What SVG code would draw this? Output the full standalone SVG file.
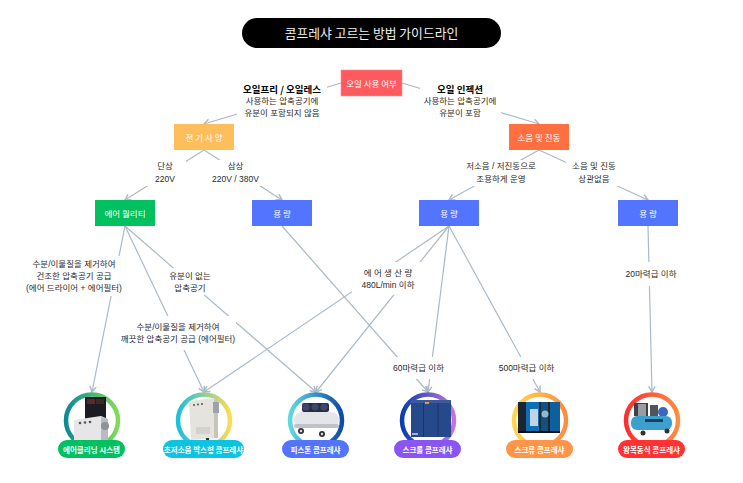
<svg xmlns="http://www.w3.org/2000/svg" width="743" height="483" viewBox="0 0 743 483">
<style>
text{font-family:"Noto Sans CJK KR","Liberation Sans",sans-serif;text-anchor:middle;dominant-baseline:central}
.l{font-family:"Liberation Sans","Noto Sans CJK KR",sans-serif;font-size:8.5px;fill:#2a2a2a}
.b{font-size:9.500px;font-weight:700;fill:#000}
.n{font-size:8.500px;fill:#fff}
.p{font-size:7.500px;font-weight:700;fill:#fff}
.c line{stroke:#abbac7;stroke-width:1.200;fill:none;marker-end:url(#a)}
.bg{fill:#fff}
.r{fill:#fff;stroke-width:4.500}
</style>
<defs>
<marker id="a" viewBox="0 0 10 10" refX="9" refY="5" markerWidth="8" markerHeight="8" markerUnits="userSpaceOnUse" orient="auto"><path d="M2 1L9 5L2 9" fill="none" stroke="#abbac7" stroke-width="1.800"/></marker>
<linearGradient id="g1"><stop offset="0" stop-color="#0d8a94"/><stop offset="1" stop-color="#80dc58"/></linearGradient>
<linearGradient id="g2"><stop offset="0" stop-color="#1cc0dc"/><stop offset="1" stop-color="#fadd55"/></linearGradient>
<linearGradient id="g3"><stop offset="0" stop-color="#5fd8e0"/><stop offset="1" stop-color="#0a4caa"/></linearGradient>
<linearGradient id="g4"><stop offset="0" stop-color="#0a3eb0"/><stop offset="1" stop-color="#c872e2"/></linearGradient>
<linearGradient id="g5"><stop offset="0" stop-color="#ffd850"/><stop offset="1" stop-color="#ff8c40"/></linearGradient>
<linearGradient id="g6"><stop offset="0" stop-color="#ff2e30"/><stop offset="1" stop-color="#ff8e3e"/></linearGradient>
<filter id="s" x="-10%" y="-10%" width="120%" height="120%"><feGaussianBlur stdDeviation="0.5"/></filter>
</defs>
<rect width="743" height="483" fill="#fff"/>
<g id="connectors" class="c">
<line x1="341" y1="83" x2="204" y2="124"/>
<line x1="402" y1="83" x2="539" y2="124"/>
<line x1="204" y1="150" x2="125" y2="200"/>
<line x1="204" y1="150" x2="282" y2="200"/>
<line x1="539" y1="150" x2="449" y2="200"/>
<line x1="539" y1="150" x2="648" y2="200"/>
<line x1="125" y1="226" x2="92" y2="392"/>
<line x1="125" y1="226" x2="204" y2="392"/>
<line x1="125" y1="226" x2="316" y2="392"/>
<line x1="282" y1="226" x2="428" y2="392"/>
<line x1="449" y1="226" x2="204" y2="392"/>
<line x1="449" y1="226" x2="316" y2="392"/>
<line x1="449" y1="226" x2="428" y2="392"/>
<line x1="449" y1="226" x2="540" y2="392"/>
<line x1="648" y1="226" x2="652" y2="392"/>
</g>
<g id="title"><rect x="242" y="18" width="259" height="30" rx="15" fill="#000"/><text x="371.500" y="32.500" font-size="12.800" fill="#f0f0f0">콤프레샤 고르는 방법 가이드라인</text></g>
<g id="edge-labels">
<rect class="bg" x="237" y="78" width="90" height="41"/>
<text class="b" x="282" y="89">오일프리 / 오일레스</text><text class="l" x="282" y="101">사용하는 압축공기에</text><text class="l" x="282" y="113">유분이 포함되지 않음</text>
<rect class="bg" x="420" y="78" width="81" height="41"/>
<text class="b" x="460" y="89">오일 인젝션</text><text class="l" x="460" y="101">사용하는 압축공기에</text><text class="l" x="460" y="113">유분이 포함</text>
<rect class="bg" x="146" y="160" width="40" height="26"/>
<text class="l" x="165" y="166">단상</text><text class="l" x="165" y="179">220V</text>
<rect class="bg" x="210" y="160" width="52" height="26"/>
<text class="l" x="235.500" y="166">삼상</text><text class="l" x="235.500" y="179">220V / 380V</text>
<rect class="bg" x="462" y="160" width="78" height="26"/>
<text class="l" x="501" y="166">저소음 / 저진동으로</text><text class="l" x="501" y="179">조용하게 운영</text>
<rect class="bg" x="566" y="160" width="56" height="26"/>
<text class="l" x="594" y="166">소음 및 진동</text><text class="l" x="594" y="179">상관없음</text>
<rect class="bg" x="26" y="256" width="97" height="40"/>
<text class="l" x="74" y="264">수분/이물질을 제거하여</text><text class="l" x="74" y="276">건조한 압축공기 공급</text><text class="l" x="74" y="288">(에어 드라이어 + 에어필터)</text>
<rect class="bg" x="165" y="268" width="50" height="27"/>
<text class="l" x="190" y="275.500">유분이 없는</text><text class="l" x="190" y="287.500">압축공기</text>
<rect class="bg" x="120" y="316" width="116" height="34"/>
<text class="l" x="178" y="327">수분/이물질을 제거하여</text><text class="l" x="178" y="339">깨끗한 압축공기 공급 (에어필터)</text>
<rect class="bg" x="352" y="262" width="72" height="33"/>
<text class="l" x="388" y="272.500">에 어 생 산 량</text><text class="l" x="388" y="284.500">480L/min 이하</text>
<rect class="bg" x="392" y="357" width="53" height="22"/>
<text class="l" x="418.500" y="367.500">60마력급 이하</text>
<rect class="bg" x="497" y="357" width="59" height="22"/>
<text class="l" x="526.500" y="367.500">500마력급 이하</text>
<rect class="bg" x="624" y="262" width="54" height="24"/>
<text class="l" x="651" y="274">20마력급 이하</text>
</g>
<g id="node-oil"><rect x="341" y="70" width="61" height="26" fill="#ff5a5f" stroke="#ff8a8e" stroke-width=".6"/><text class="n" x="371.500" y="83">오일 사용 여부</text></g>
<g id="node-power"><rect x="174" y="124" width="60" height="26" fill="#ffbe5c"/><text class="n" x="204" y="137">전 기 사 양</text></g>
<g id="node-noise"><rect x="509" y="124" width="60" height="26" fill="#ff6f3f"/><text class="n" x="539" y="137">소음 및 진동</text></g>
<g id="node-air"><rect x="95" y="200" width="60" height="26" fill="#00c060"/><text class="n" x="125" y="213">에어 퀄리티</text></g>
<g id="node-cap1"><rect x="252" y="200" width="60" height="26" fill="#5274ff"/><text class="n" x="282" y="213">용 량</text></g>
<g id="node-cap2"><rect x="419" y="200" width="60" height="26" fill="#5274ff"/><text class="n" x="449" y="213">용 량</text></g>
<g id="node-cap3"><rect x="618" y="200" width="60" height="26" fill="#5274ff"/><text class="n" x="648" y="213">용 량</text></g>

<g id="result-air-cleaning">
<circle class="r" cx="92" cy="420.500" r="26" stroke="url(#g1)"/>
<g filter="url(#s)">
<rect x="85" y="397" width="21" height="22" fill="#1d1c22"/><rect x="87" y="399" width="8" height="5" fill="#5a2a2a"/><rect x="96" y="399" width="8" height="5" fill="#3a2a2a"/>
<path d="M74 420L101 416L108 419V440H74Z" fill="#e6e6e8"/><path d="M101 417L108 419V440H101Z" fill="#b9bbc0"/>
<circle cx="80" cy="423" r="1.300" fill="#555"/><circle cx="85" cy="422.500" r="1.300" fill="#555"/><circle cx="90" cy="422" r="1.300" fill="#555"/>
<circle cx="105" cy="426" r="4" fill="#8d9299"/>
</g>
<rect x="58" y="440" width="67" height="18" rx="9" fill="#00c060"/><text class="p" x="91.500" y="449">에어클리닝 시스템</text>
</g>
<g id="result-box">
<circle class="r" cx="204" cy="420.500" r="26" stroke="url(#g2)"/>
<g filter="url(#s)">
<path d="M189 401L214 398L218 401V438L191 440Z" fill="#e4e3dd"/><path d="M214 398L218 401V438L214 438Z" fill="#c5c5c0"/>
<circle cx="194" cy="405" r="1" fill="#555"/><circle cx="198" cy="404.500" r="1" fill="#555"/><circle cx="202" cy="404" r="1" fill="#555"/>
<rect x="213" y="402" width="6" height="11" fill="#9ea3aa"/><rect x="196" y="427" width="14" height="7" fill="#d3d2cc"/>
<rect x="206" y="438" width="3" height="3" fill="#333"/>
</g>
<rect x="163" y="440" width="81" height="18" rx="9" fill="#0cc3e2"/><text class="p" x="203.500" y="449">초저소음 박스형 콤프레샤</text>
</g>
<g id="result-piston">
<circle class="r" cx="316" cy="420.500" r="26" stroke="url(#g3)"/>
<g filter="url(#s)">
<rect x="302" y="403" width="27" height="9" rx="2" fill="#2a2f3e"/><circle cx="306" cy="407" r="3.500" fill="#3a4a70"/><circle cx="315" cy="407" r="3.500" fill="#3a4a70"/><circle cx="324" cy="407" r="3.500" fill="#3a4a70"/>
<rect x="294" y="412" width="45" height="16" rx="8" fill="#e4e5e8"/><rect x="294" y="424" width="45" height="4" rx="2" fill="#bfc2c8"/>
<circle cx="301" cy="431" r="3" fill="#333"/><circle cx="301" cy="431" r="1.200" fill="#ddd"/><circle cx="322" cy="434" r="3" fill="#333"/><circle cx="322" cy="434" r="1.200" fill="#ddd"/>
</g>
<rect x="282" y="440" width="67" height="18" rx="9" fill="#5274ff"/><text class="p" x="315.500" y="449">피스톤 콤프레샤</text>
</g>
<g id="result-scroll">
<circle class="r" cx="428" cy="420.500" r="26" stroke="url(#g4)"/>
<g filter="url(#s)">
<rect x="411" y="400" width="40" height="37" fill="#27488c"/><rect x="411" y="400" width="40" height="3" fill="#3a5a9c"/>
<path d="M423.500 403V437M438 403V437" stroke="#1b3368" stroke-width="1"/>
<rect x="425" y="402" width="4" height="2" fill="#e0a030"/><rect x="412" y="433" width="6" height="2" fill="#9fb0d0"/>
</g>
<rect x="394" y="440" width="67" height="18" rx="9" fill="#8a55f5"/><text class="p" x="427.500" y="449">스크롤 콤프레샤</text>
</g>
<g id="result-screw">
<circle class="r" cx="540" cy="420.500" r="26" stroke="url(#g5)"/>
<g filter="url(#s)">
<rect x="518" y="402" width="42" height="31" fill="#1d2733"/><rect x="526" y="402" width="13" height="31" fill="#0e6fb5"/><rect x="530" y="409" width="8" height="17" fill="#c0d4e4"/>
<rect x="541" y="402" width="7" height="31" fill="#17507e"/><circle cx="545" cy="414" r="3.500" fill="#8fb8d4"/><rect x="550" y="402" width="10" height="31" fill="#0c5f9e"/>
<rect x="518" y="431" width="42" height="2" fill="#0a0f18"/>
</g>
<rect x="506" y="440" width="67" height="18" rx="9" fill="#ff9548"/><text class="p" x="539.500" y="449">스크류 콤프레샤</text>
</g>
<g id="result-recip">
<circle class="r" cx="652" cy="420.500" r="26" stroke="url(#g6)"/>
<g filter="url(#s)">
<rect x="634" y="403" width="14" height="13" fill="#3c3f46"/><rect x="638" y="404" width="8" height="12" fill="#9a9ca4"/><rect x="650" y="405" width="8" height="11" fill="#50545c"/>
<circle cx="663" cy="412" r="5" fill="#3a66c4"/>
<rect x="631" y="416" width="41" height="14" rx="6" fill="#3aa0cc"/><rect x="645" y="419" width="18" height="3" fill="#1c3a60"/>
<circle cx="643" cy="433" r="2.500" fill="#333"/><circle cx="667" cy="431" r="2.500" fill="#333"/>
</g>
<rect x="618" y="440" width="67" height="18" rx="9" fill="#ff3333"/><text class="p" x="651.500" y="449">왕복동식 콤프레샤</text>
</g>
</svg>
